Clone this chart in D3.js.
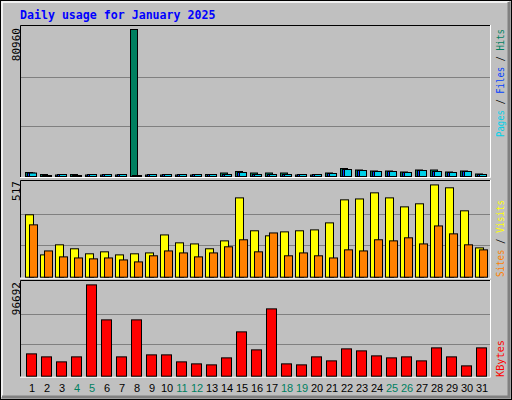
<!DOCTYPE html><html><head><meta charset="utf-8"><script src="https://cdn.jsdelivr.net/npm/d3@7"></script>
<style>body{margin:0}svg{display:block}</style></head><body><script>
const days=d3.range(1,32);
const weekend=[4,5,11,12,18,19,25,26];
const hits=[2200,1100,830,1100,830,830,830,80960,830,830,830,830,1100,1930,2760,1930,1930,1930,830,830,1930,4400,3580,3030,3030,2480,3580,3580,2480,3030,1380];
const pages=[1900,550,1100,550,1100,1100,1100,550,1100,1100,1100,1100,1100,1100,2200,1100,1100,1100,1100,1100,1650,3850,3300,2750,2750,2200,3300,2750,2200,2750,1100];
const files=pages.map(v=>v);
const visits=[347,124,180,158,130,141,124,130,135,235,191,185,158,202,441,258,230,252,258,263,302,430,435,469,441,391,408,513,497,369,163];
const sites=[291,146,113,107,102,107,96,85,119,146,135,113,135,169,208,141,246,119,135,119,107,152,146,208,202,219,185,285,241,180,152];
const kbytes=[23624,20451,15162,20451,96612,59590,20451,59590,22566,22566,15162,13046,11988,19393,46896,27855,71225,13046,11988,20451,16220,28913,26798,21509,19393,20451,16220,29971,20451,10931,29971];
const maxHits=80960,maxVisits=517,maxK=96692;

const svg=d3.select("body").append("svg").attr("width",512).attr("height",400);
svg.append("rect").attr("width",512).attr("height",400).attr("fill","#C0C0C0");
svg.append("rect").attr("x",0.5).attr("y",0.5).attr("width",511).attr("height",399).attr("fill","none").attr("stroke","#000");
svg.append("path").attr("d","M2,397V2H509").attr("fill","none").attr("stroke","#fff").attr("stroke-width",1.5);
svg.append("path").attr("d","M2,397H509V2").attr("fill","none").attr("stroke","#808080").attr("stroke-width",3);
svg.append("text").attr("x",20).attr("y",19).text("Daily usage for January 2025")
 .attr("font-family","DejaVu Sans Mono").attr("font-weight","bold").attr("font-size",11.6).attr("fill","#0000FF");

const x=d3.scaleLinear().domain([1,31]).range([25,475]);
const L=20,R=490;
function panel(top,bot,H){
  const g=svg.append("g");
  [1/3,2/3].forEach(f=>g.append("line").attr("x1",L).attr("x2",R).attr("y1",Math.round(bot-H*(f+0.01))+0.5).attr("y2",Math.round(bot-H*(f+0.01))+0.5).attr("stroke","#808080").attr("stroke-width",1));
  g.append("path").attr("d",`M${L+0.5},${bot+1}V${top+0.5}H${R}`).attr("fill","none").attr("stroke","#000");
  g.append("path").attr("d",`M${L},${bot+1.5}H${R+0.5}V${top}`).attr("fill","none").attr("stroke","#fff");
  return g;
}
function bars(g,data,max,bot,H,off,w,color){
  const y=d3.scaleLinear().domain([0,max]).range([bot,bot-H]);
  g.selectAll(null).data(data).enter().append("rect")
   .attr("x",(d,i)=>x(i+1)+off+0.5).attr("width",w)
   .attr("y",d=>y(d)+0.5).attr("height",d=>Math.max(0.5,bot-y(d)))
   .attr("fill",color).attr("stroke","#000").attr("stroke-width",1);
}
function leftLabel(txt,xx,yy){
  svg.append("text").attr("transform",`translate(${xx},${yy}) rotate(-90)`).attr("text-anchor","end")
   .attr("font-family","DejaVu Sans Mono").attr("font-size",11).attr("fill","#000").text(txt);
}
function rightLegendUp(parts,yy,len){
  const t=svg.append("text").attr("transform",`translate(504,${yy}) rotate(-90)`)
   .attr("font-family","DejaVu Sans Mono").attr("font-size",11)
   .attr("textLength",len).attr("lengthAdjust","spacingAndGlyphs");
  parts.forEach(p=>t.append("tspan").attr("fill",p[1]).text(p[0]));
}
const g1=panel(25,176,147);
bars(g1,hits,maxHits,176,147,0,7,"#008060");
bars(g1,files,maxHits,176,147,2,7,"#0040FF");
bars(g1,pages,maxHits,176,147,4,7,"#00D0E8");
leftLabel("80960",20,28);
rightLegendUp([["Pages","#00D0E8"],[" / ","#000"],["Files","#0040FF"],[" / ","#000"],["Hits","#008060"]],137,108);
const g2=panel(180,276.7,93);
bars(g2,visits,maxVisits,276.7,93,0,8,"#FFFF00");
bars(g2,sites,maxVisits,276.7,93,4,8,"#FF8000");
leftLabel("517",20,181);
rightLegendUp([["Sites","#FF8000"],[" / ","#000"],["Visits","#FFFF00"]],277,77);
const g3=panel(280,375.7,91.4);
bars(g3,kbytes,maxK,375.7,91.4,1,10,"#FF0000");
leftLabel("96692",20,282);
rightLegendUp([["KBytes","#FF0000"]],377,37);
svg.selectAll(null).data(days).enter().append("text")
 .attr("x",d=>x(d)+7).attr("y",392).attr("text-anchor","middle")
 .attr("font-family","Liberation Sans").attr("font-size",11)
 .attr("fill",d=>weekend.includes(d)?"#008060":"#000").text(d=>d);
</script></body></html>
